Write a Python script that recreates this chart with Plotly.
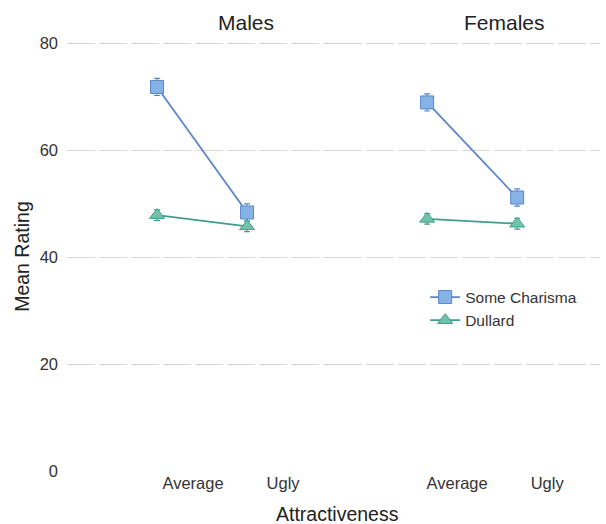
import plotly.graph_objects as go
from plotly.subplots import make_subplots

attractiveness = ["Average", "Ugly"]
groups = ["Males", "Females"]
series_names = ["Some Charisma", "Dullard"]

males_charisma = [71.9, 48.4]
males_dullard = [47.9, 45.8]
females_charisma = [69.0, 51.2]
females_dullard = [47.2, 46.3]

males_charisma_err = [1.6, 1.6]
males_dullard_err = [1.0, 1.0]
females_charisma_err = [1.6, 1.6]
females_dullard_err = [1.0, 1.0]

y_ticks = [0, 20, 40, 60, 80]

FONT = "Liberation Sans, Arial, sans-serif"
blue_line = "#5a86c8"
blue_fill = "#86b3e6"
teal_line = "#3f9e8c"
teal_fill = "#72c2aa"

fig = make_subplots(rows=1, cols=2, shared_yaxes=True, horizontal_spacing=0.0)

data = [
    (1, males_charisma, males_charisma_err, males_dullard, males_dullard_err),
    (2, females_charisma, females_charisma_err, females_dullard, females_dullard_err),
]
for col, ch, che, du, due in data:
    show = col == 2
    fig.add_trace(go.Scatter(
        x=attractiveness, y=ch, mode="lines+markers", name=series_names[0],
        legendgroup="c", showlegend=show,
        line=dict(color=blue_line, width=1.8),
        marker=dict(symbol="square", size=13, color=blue_fill,
                    line=dict(color=blue_line, width=1)),
        error_y=dict(type="data", array=che, color=blue_line, thickness=1.2, width=3),
    ), row=1, col=col)
    fig.add_trace(go.Scatter(
        x=attractiveness, y=du, mode="lines+markers", name=series_names[1],
        legendgroup="d", showlegend=show,
        line=dict(color=teal_line, width=1.8),
        marker=dict(symbol="triangle-up", size=13, color=teal_fill,
                    line=dict(color=teal_line, width=1)),
        error_y=dict(type="data", array=due, color=teal_line, thickness=1.2, width=3),
    ), row=1, col=col)

xcommon = dict(showgrid=False, zeroline=False, showline=False, ticks="",
               tickfont=dict(family=FONT, size=16.5, color="#333"),
               type="category", categoryorder="array",
               categoryarray=attractiveness)
fig.update_xaxes(**xcommon)
fig.update_xaxes(range=[-1.0, 1.96], ticklabelshift=36, row=1, col=1)
fig.update_xaxes(range=[-1.04, 1.92], ticklabelshift=30, row=1, col=2)

fig.update_yaxes(range=[0, 82], tickvals=y_ticks, showgrid=True,
                 gridcolor="#d6d6d6", gridwidth=1.3, griddash="28px,4px",
                 zeroline=True, zerolinecolor="rgba(0,0,0,0)",
                 showline=False, ticks="", ticklabelstandoff=8,
                 tickfont=dict(family=FONT, size=16.5, color="#333"))
fig.update_yaxes(showticklabels=False, row=1, col=2)

annotations = [
    dict(text=groups[0], x=0.336, y=1.025, xref="paper", yref="paper",
         showarrow=False, font=dict(family=FONT, size=21, color="#222"),
         xanchor="center", yanchor="middle"),
    dict(text=groups[1], x=0.820, y=1.025, xref="paper", yref="paper",
         showarrow=False, font=dict(family=FONT, size=21, color="#222"),
         xanchor="center", yanchor="middle"),
    dict(text="Attractiveness", x=0.507, y=-0.098, xref="paper", yref="paper",
         showarrow=False, font=dict(family=FONT, size=19.5, color="#222"),
         xanchor="center", yanchor="middle"),
    dict(text="Mean Rating", x=-0.0844, y=0.489, xref="paper", yref="paper",
         showarrow=False, textangle=-90, font=dict(family=FONT, size=19.5, color="#222"),
         xanchor="center", yanchor="middle"),
]

fig.update_layout(
    width=606, height=524,
    margin=dict(l=67, r=6, t=33, b=53),
    plot_bgcolor="white", paper_bgcolor="white",
    annotations=annotations,
    legend=dict(x=0.672, y=0.435, xanchor="left", yanchor="top",
                bgcolor="rgba(0,0,0,0)", font=dict(family=FONT, size=15.5, color="#333"),
                tracegroupgap=0),
    showlegend=True,
)

fig.write_html("out.html", config={"displayModeBar": False},
               post_script="document.body.style.margin='0';")
